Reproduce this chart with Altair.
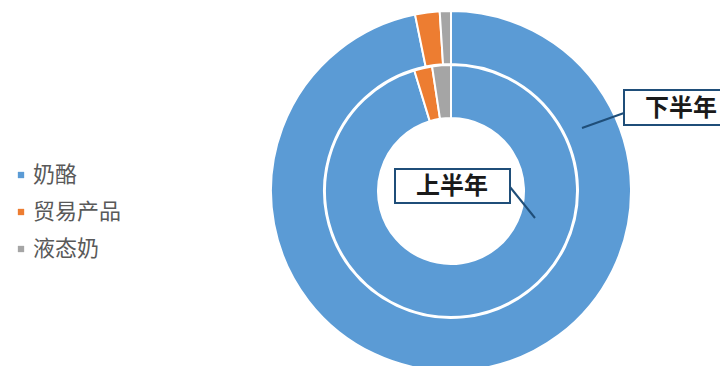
import altair as alt
import pandas as pd

categories = ["奶酪", "贸易产品", "液态奶"]
h1_values = [95.3, 2.3, 2.4]   # 上半年 (inner ring)
h2_values = [96.8, 2.2, 1.0]   # 下半年 (outer ring)
colors = ["#5B9BD5", "#ED7D31", "#A5A5A5"]
ring_labels = ["上半年", "下半年"]

FONT = "Noto Sans CJK SC"
CX, CY = 443, 183  # pie centre inside the plot area

inner_df = pd.DataFrame({"category": categories, "value": h1_values, "idx": range(3)})
outer_df = pd.DataFrame({"category": categories, "value": h2_values, "idx": range(3)})

color = alt.Color(
    "category:N",
    scale=alt.Scale(domain=categories, range=colors),
    legend=alt.Legend(
        orient="none", legendX=2, legendY=156, title=None,
        symbolType="square", symbolSize=40, symbolStrokeWidth=0,
        labelFont=FONT, labelFontSize=22, labelColor="#595959",
        rowPadding=15, labelOffset=1, padding=0,
    ),
)

def ring(df, r_out, r_in):
    return alt.Chart(df).mark_arc(
        radius=r_out, radius2=r_in, stroke="white", strokeWidth=2
    ).encode(
        theta=alt.Theta("value:Q", stack=True),
        color=color,
        order=alt.Order("idx:Q"),
        x=alt.value(CX), y=alt.value(CY),
    )

inner = ring(inner_df, 126, 73)
outer = ring(outer_df, 180, 127)

BOX = "#1F4E79"
lbl_df = pd.DataFrame({"label": ring_labels})

def label(i, bx, bx2, by, by2, tx, ty, lx, ly, lx2, ly2):
    d = lbl_df.iloc[[i]]
    line = alt.Chart(d).mark_rule(color=BOX, strokeWidth=2).encode(
        x=alt.value(lx), y=alt.value(ly), x2=alt.value(lx2), y2=alt.value(ly2))
    box = alt.Chart(d).mark_rect(fill="white", stroke=BOX, strokeWidth=2).encode(
        x=alt.value(bx), x2=alt.value(bx2), y=alt.value(by), y2=alt.value(by2))
    txt = alt.Chart(d).mark_text(font=FONT, fontSize=24, fontWeight="bold", color="#1a1a1a",
                                 align="center", baseline="middle").encode(
        text="label:N", x=alt.value(tx), y=alt.value(ty))
    return line + box + txt

lab_h1 = label(0, 387, 502, 161, 195, 444, 179, 502, 179, 527, 210)
lab_h2 = label(1, 616, 719, 82, 117, 673, 101, 574, 120, 616, 105)

chart = alt.layer(outer, inner, lab_h1, lab_h2).properties(
    width=712, height=358, padding=0,
    autosize=alt.AutoSizeParams(type="none"),
).configure_view(stroke=None)

chart.save("out.html", embed_options={"renderer": "svg", "actions": False})
